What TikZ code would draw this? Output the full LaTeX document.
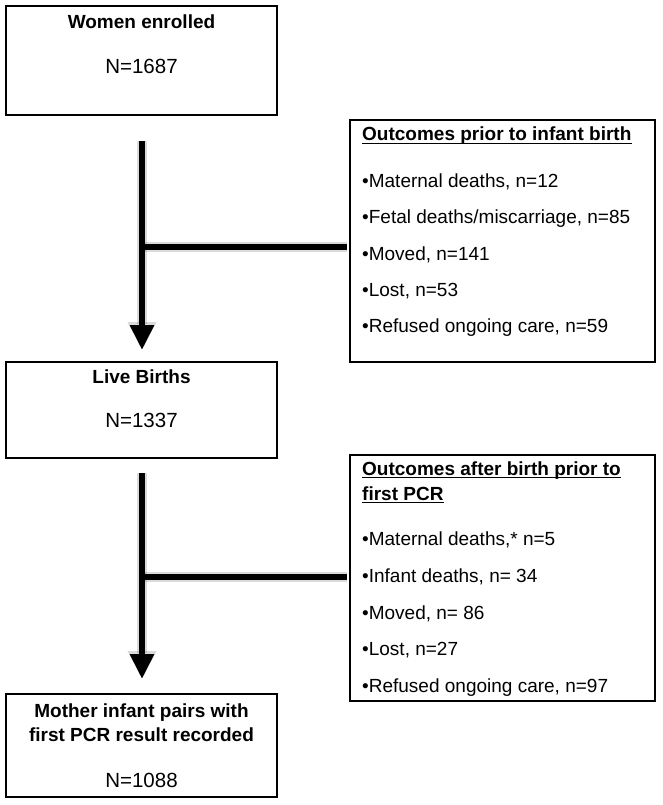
\documentclass[tikz,border=0pt]{standalone}
\usepackage{fontspec}
\setmainfont{Liberation Sans}
\usetikzlibrary{arrows.meta}
\begin{document}
\begin{tikzpicture}[x=1pt,y=-1pt,
  box/.style={draw=black,line width=2pt,rectangle,inner sep=0pt},
  lbl/.style={anchor=base,inner sep=0pt,font=\fontsize{19}{23}\selectfont\bfseries},
  num/.style={anchor=base,inner sep=0pt,font=\fontsize{20.5}{24}\selectfont},
  item/.style={anchor=base west,inner sep=0pt,font=\fontsize{19}{23}\selectfont},
  ttl/.style={anchor=base west,inner sep=0pt,font=\fontsize{19}{23}\selectfont\bfseries},
  uline/.style={line width=1.6pt},
  bar/.style={line width=6pt},
  shadowline/.style={line width=10pt,draw=black,opacity=0.14},
  arr/.style={bar,-{Triangle[width=23pt,length=25pt]}},
  sharr/.style={shadowline,-{Triangle[width=27pt,length=28pt]}}
]
\useasboundingbox (0,0) rectangle (662,805);
\fill[white] (0,0) rectangle (662,805);

% boxes
\node[box,minimum width=271pt,minimum height=109pt] (b1) at (141.5,60.5) {};
\node[box,minimum width=305pt,minimum height=242pt] (r1) at (502.5,241) {};
\node[box,minimum width=271pt,minimum height=96pt] (b2) at (141.5,410) {};
\node[box,minimum width=305pt,minimum height=246pt] (r2) at (502.5,578) {};
\node[box,minimum width=271pt,minimum height=103pt] (b3) at (141.5,745.5) {};

% main box texts
\node[lbl] (t1) at (141.5,29) {Women enrolled};
\node[num] (n1) at (141.5,74) {N=1687};
\node[lbl] (t2) at (141.5,383) {Live Births};
\node[num] (n2) at (141.5,427) {N=1337};
\node[lbl] (t3a) at (141.5,717) {Mother infant pairs with};
\node[lbl] (t3b) at (141.5,741) {first PCR result recorded};
\node[num] (n3) at (141.5,787) {N=1088};

% right box 1
\node[ttl] (h1) at (362,141) {Outcomes prior to infant birth};
\draw[uline] ([yshift=-2.5pt]h1.base west) -- ([yshift=-2.5pt]h1.base east);
\node[item] (i11) at (362,187) {•Maternal deaths, n=12};
\node[item] (i12) at (362,223) {•Fetal deaths/miscarriage, n=85};
\node[item] (i13) at (362,260) {•Moved, n=141};
\node[item] (i14) at (362,296) {•Lost, n=53};
\node[item] (i15) at (362,332) {•Refused ongoing care, n=59};

% right box 2
\node[ttl] (h2a) at (362,475) {Outcomes after birth prior to};
\draw[uline] ([yshift=-2.5pt]h2a.base west) -- ([yshift=-2.5pt]h2a.base east);
\node[ttl] (h2b) at (362,500) {first PCR};
\draw[uline] ([yshift=-2.5pt]h2b.base west) -- ([yshift=-2.5pt]h2b.base east);
\node[item] (i21) at (362,545) {•Maternal deaths,* n=5};
\node[item] (i22) at (362,582) {•Infant deaths, n= 34};
\node[item] (i23) at (362,619) {•Moved, n= 86};
\node[item] (i24) at (362,655) {•Lost, n=27};
\node[item] (i25) at (362,692) {•Refused ongoing care, n=97};

% connector coordinates
\coordinate (s1) at (142,141);
\coordinate (e1) at (142,350);
\coordinate (j1) at (142,247);
\coordinate (s2) at (142,473);
\coordinate (e2) at (142,679);
\coordinate (j2) at (142,577);

% shadows
\begin{scope}[shift={(3,5)}]
  \draw[sharr] (s1) -- (e1);
  \draw[shadowline] (j1) -- ([xshift=-2pt]j1 -| r1.west);
  \draw[sharr] (s2) -- (e2);
  \draw[shadowline] (j2) -- ([xshift=-2pt]j2 -| r2.west);
\end{scope}

% connectors
\draw[arr] (s1) -- (e1);
\draw[bar] (j1) -- ([xshift=-2pt]j1 -| r1.west);
\draw[arr] (s2) -- (e2);
\draw[bar] (j2) -- ([xshift=-2pt]j2 -| r2.west);
\end{tikzpicture}
\end{document}
